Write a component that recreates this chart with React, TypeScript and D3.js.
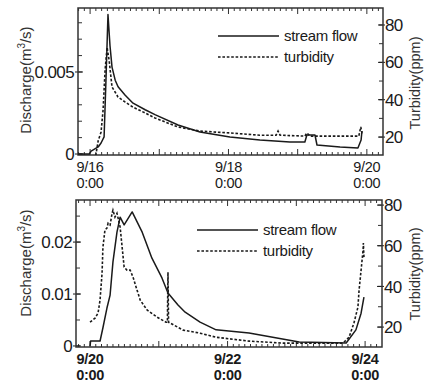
import React from "react";
import * as d3 from "d3";

// ---------- data (hours since start of each panel's first day) ----------
const topFlowHours = [-4.2, -0.3, 0.35, 2.8, 3.8, 4.85, 5.5, 6.2, 6.9, 7.6, 8.7, 9.7, 12.1, 14.9, 19.1, 22.5, 30.5, 38.1, 48.5, 58.9, 69.3, 74.5, 75.2, 78.0, 78.7, 86.7, 92.9, 94.0, 94.3];
const topFlow = [0, 0, 0.00018, 0.00043, 0.00067, 0.00104, 0.0045, 0.0085, 0.0066, 0.0053, 0.0045, 0.0041, 0.0036, 0.0031, 0.0027, 0.0024, 0.00177, 0.00134, 0.00104, 0.00085, 0.00073, 0.00073, 0.00116, 0.00116, 0.00055, 0.00043, 0.00037, 0.00085, 0.0014];

const topTurbHours = [1.7, 2.8, 3.8, 4.5, 5.2, 5.9, 6.6, 7.6, 8.7, 9.7, 12.1, 14.9, 19.1, 22.5, 30.5, 38.1, 48.5, 58.9, 64.5, 65.2, 65.9, 74.5, 75.2, 76.3, 93.2, 93.9, 94.3];
const topTurb = [7.7, 18, 22.7, 34.5, 56, 68, 61, 46.8, 44, 41.4, 38.8, 36, 32.9, 30.2, 25.4, 23.2, 22.2, 21, 21, 23.2, 21, 20.5, 22.2, 20.5, 20.5, 25.4, 22];

const botFlowHours = [0, 0.2, 3.5, 4.5, 5.9, 7.0, 8.0, 9.4, 10.5, 11.9, 14.7, 18.2, 21.6, 25.1, 27.2, 30.7, 33.2, 38.4, 44, 55.5, 73, 89.4, 92.8, 94.6, 95.6];
const botFlow = [0, 0.00096, 0.00096, 0.0035, 0.0073, 0.0098, 0.0162, 0.0219, 0.0248, 0.0233, 0.0258, 0.0219, 0.0169, 0.0131, 0.0102, 0.0079, 0.0065, 0.0046, 0.0031, 0.0025, 0.00077, 0.00058, 0.0031, 0.0063, 0.0094];

const botTurbHours = [0, 1.75, 2.8, 3.5, 4.2, 4.5, 5.2, 5.9, 6.3, 7.0, 7.7, 8.0, 8.7, 9.4, 10.5, 11.2, 11.9, 12.9, 14.0, 15.0, 16.4, 17.5, 19.9, 23.4, 26.5, 27.0, 27.2, 27.4, 32.5, 38.4, 44, 55.5, 67.4, 88.3, 90.4, 92.1, 93.5, 93.9, 94.6, 95.3, 95.4, 95.6];
const botTurb = [22.4, 24.4, 26.9, 33.4, 46.6, 59.3, 67.7, 68.7, 71.1, 70.2, 76, 77.5, 74.1, 76, 69.2, 59.3, 49.5, 48, 48, 44.6, 38.2, 33.3, 28.4, 24.9, 22.4, 22.4, 47, 22.4, 18.5, 17, 15, 13.1, 12.1, 12.1, 15, 22, 29.8, 38.2, 48, 57.9, 61.3, 54.4];

const topDateLabels = ["9/16", "9/18", "9/20"];
const botDateLabels = ["9/20", "9/22", "9/24"];
const dateLabelHours = [0, 48, 96];
const timeLabel = "0:00";

const topFlowTicks = [0, 0.005];
const botFlowTicks = [0, 0.01, 0.02];
const turbTicks = [20, 40, 60, 80];

const legendLabels = ["stream flow", "turbidity"];

// ---------- drawing ----------
const FONT = "'Liberation Sans', Arial, Helvetica, sans-serif";
const INK = "#1a1a1a";

type PanelProps = {
  id: string;
  x0: number; x1: number; y0: number; y1: number;
  hDomain: [number, number];
  flowDomain: [number, number];
  turbDomain: [number, number];
  flowH: number[]; flow: number[];
  turbH: number[]; turb: number[];
  flowTicks: number[]; flowMinorStep: number; flowFmt: (v: number) => string;
  dateLabels: string[];
  dateY: number;
  dateWeight: string;
  legendX: number; legendY: number; legendLen: number;
  yLabelCenter: number; rLabelCenter: number;
};

function Panel(p: PanelProps) {
  const x = d3.scaleLinear().domain(p.hDomain).range([p.x0, p.x1]);
  const yL = d3.scaleLinear().domain(p.flowDomain).range([p.y1, p.y0]);
  const yR = d3.scaleLinear().domain(p.turbDomain).range([p.y1, p.y0]);

  const flowLine = d3.line<number>().x((_, i) => x(p.flowH[i])).y((d) => yL(d));
  const turbLine = d3.line<number>().x((_, i) => x(p.turbH[i])).y((d) => yR(d));

  // x ticks every 2h, taller at days
  const xMinor: number[] = [];
  for (let h = Math.ceil(p.hDomain[0] / 2) * 2; h <= p.hDomain[1]; h += 2) xMinor.push(h);

  const flowMinor: number[] = [];
  for (let v = 0; v <= p.flowDomain[1] + 1e-12; v += p.flowMinorStep) flowMinor.push(v);
  const turbMinor: number[] = [];
  for (let v = 10; v <= p.turbDomain[1]; v += 10) if (v >= p.turbDomain[0]) turbMinor.push(v);

  const clipId = "clip-" + p.id;
  return (
    <g>
      <defs>
        <clipPath id={clipId}>
          <rect x={p.x0} y={p.y0} width={p.x1 - p.x0} height={p.y1 - p.y0} />
        </clipPath>
      </defs>
      {/* x ticks bottom and top (inward) */}
      {xMinor.map((h) => {
        const len = h % 24 === 0 ? 6 : 3;
        return (
          <g key={"xt" + h} stroke={INK} strokeWidth={0.9}>
            <line x1={x(h)} x2={x(h)} y1={p.y1} y2={p.y1 - len} />
            <line x1={x(h)} x2={x(h)} y1={p.y0} y2={p.y0 + len} />
          </g>
        );
      })}
      {/* left ticks */}
      {flowMinor.map((v, i) => (
        <line key={"lt" + i} x1={p.x0} x2={p.x0 + 4} y1={yL(v)} y2={yL(v)} stroke={INK} strokeWidth={0.9} />
      ))}
      {p.flowTicks.map((v, i) => (
        <g key={"lm" + i}>
          <line x1={p.x0 - 3} x2={p.x0 + 5} y1={yL(v)} y2={yL(v)} stroke={INK} strokeWidth={1} />
          <text x={p.x0 - 4} y={yL(v)} dy="0.36em" textAnchor="end" fontSize={17} fontFamily={FONT} fill={INK} letterSpacing={-0.6}>
            {p.flowFmt(v)}
          </text>
        </g>
      ))}
      {/* right ticks */}
      {turbMinor.map((v, i) => (
        <line key={"rt" + i} x1={p.x1 - 4} x2={p.x1} y1={yR(v)} y2={yR(v)} stroke={INK} strokeWidth={0.9} />
      ))}
      {turbTicks.map((v, i) => (
        <g key={"rm" + i}>
          <line x1={p.x1 - 5} x2={p.x1 + 2} y1={yR(v)} y2={yR(v)} stroke={INK} strokeWidth={1} />
          <text x={p.x1 + 2} y={yR(v)} dy="0.36em" textAnchor="start" fontSize={17} fontFamily={FONT} fill={INK} letterSpacing={-0.6}>
            {v}
          </text>
        </g>
      ))}
      {/* frame */}
      <rect x={p.x0} y={p.y0} width={p.x1 - p.x0} height={p.y1 - p.y0} fill="none" stroke="#333" strokeWidth={1.5} />
      {/* series */}
      <g clipPath={`url(#${clipId})`}>
        <path d={flowLine(p.flow) || ""} fill="none" stroke={INK} strokeWidth={1.5} strokeLinejoin="round" />
        <path d={turbLine(p.turb) || ""} fill="none" stroke={INK} strokeWidth={1.6} strokeDasharray="2.6,1.8" />
      </g>
      {/* date labels */}
      {dateLabelHours.map((h, i) => (
        <g key={"dl" + i} fontFamily={FONT} fontSize={14.5} fill={INK} fontWeight={p.dateWeight} textAnchor="middle" letterSpacing={-0.3}>
          <text x={x(h)} y={p.dateY}>{p.dateLabels[i]}</text>
          <text x={x(h)} y={p.dateY + 16}>{timeLabel}</text>
        </g>
      ))}
      {/* legend */}
      <line x1={p.legendX} x2={p.legendX + p.legendLen} y1={p.legendY} y2={p.legendY} stroke={INK} strokeWidth={1.5} />
      <line x1={p.legendX} x2={p.legendX + p.legendLen} y1={p.legendY + 21} y2={p.legendY + 21} stroke={INK} strokeWidth={1.6} strokeDasharray="2.6,1.8" />
      <text x={p.legendX + p.legendLen + 5} y={p.legendY} dy="0.33em" fontFamily={FONT} fontSize={15} fill={INK} letterSpacing={-0.3}>{legendLabels[0]}</text>
      <text x={p.legendX + p.legendLen + 5} y={p.legendY + 21} dy="0.33em" fontFamily={FONT} fontSize={15} fill={INK} letterSpacing={-0.3}>{legendLabels[1]}</text>
      {/* axis titles */}
      <text transform={`translate(31,${p.yLabelCenter}) rotate(-90)`} textAnchor="middle" fontFamily={FONT} fontSize={15} fill="#333">
        Discharge(m<tspan dy={-6} fontSize={10}>3</tspan><tspan dy={6}>/s)</tspan>
      </text>
      <text transform={`translate(420,${p.rLabelCenter}) rotate(-90)`} textAnchor="middle" fontFamily={FONT} fontSize={14.5} fill="#333">
        Turbidity(ppm)
      </text>
    </g>
  );
}

export default function App() {
  return (
    <svg width={432} height={386} viewBox="0 0 432 386" style={{ display: "block", position: "absolute", left: 0, top: 0, background: "#fff" }}>
      <rect width={432} height={386} fill="#fff" />
      <Panel
        id="top"
        x0={78} x1={383} y0={8} y1={155}
        hDomain={[-4.2, 101.6]}
        flowDomain={[-0.00006, 0.0089]}
        turbDomain={[10.4, 89.1]}
        flowH={topFlowHours} flow={topFlow}
        turbH={topTurbHours} turb={topTurb}
        flowTicks={topFlowTicks} flowMinorStep={0.001}
        flowFmt={(v) => (v === 0 ? "0" : d3.format(".3f")(v))}
        dateLabels={topDateLabels}
        dateY={172}
        dateWeight="normal"
        legendX={218} legendY={36} legendLen={61}
        yLabelCenter={80} rLabelCenter={83}
      />
      <Panel
        id="bot"
        x0={76} x1={382} y0={200} y1={347}
        hDomain={[-4.9, 101.9]}
        flowDomain={[-0.0002, 0.0281]}
        turbDomain={[10.2, 82.5]}
        flowH={botFlowHours} flow={botFlow}
        turbH={botTurbHours} turb={botTurb}
        flowTicks={botFlowTicks} flowMinorStep={0.005}
        flowFmt={(v) => (v === 0 ? "0" : d3.format(".2f")(v))}
        dateLabels={botDateLabels}
        dateY={364}
        dateWeight="bold"
        legendX={197} legendY={230} legendLen={61}
        yLabelCenter={263} rLabelCenter={274}
      />
    </svg>
  );
}
